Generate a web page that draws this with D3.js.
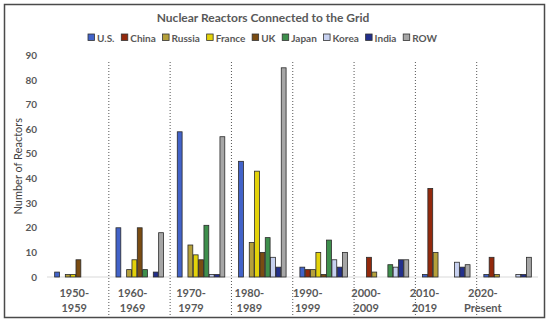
<!DOCTYPE html>
<html>
<head>
<meta charset="utf-8">
<script src="https://cdn.jsdelivr.net/npm/d3@7"></script>
<style>
  body { margin: 0; background: #fff; }
  svg text { font-family: Lato, "Liberation Sans", sans-serif; }
</style>
</head>
<body>
<div id="chart"></div>
<script>
const decades = ["1950-1959", "1960-1969", "1970-1979", "1980-1989", "1990-1999", "2000-2009", "2010-2019", "2020-Present"];
const countries = ["U.S.", "China", "Russia", "France", "UK", "Japan", "Korea", "India", "ROW"];
// reactors connected per decade, one array per country
const us     = [2, 20, 59, 47, 4, 0, 1, 1];
const china  = [0, 0, 0, 0, 3, 8, 36, 8];
const russia = [1, 3, 13, 14, 3, 2, 10, 1];
const france = [1, 7, 9, 43, 10, 0, 0, 0];
const uk     = [7, 20, 7, 10, 1, 0, 0, 0];
const japan  = [0, 3, 21, 16, 15, 5, 0, 0];
const korea  = [0, 0, 1, 8, 7, 4, 6, 1];
const india  = [0, 2, 1, 4, 4, 7, 4, 1];
const row    = [0, 18, 57, 85, 10, 7, 5, 8];
const yTicks = [0, 10, 20, 30, 40, 50, 60, 70, 80, 90];
const colors = ["#4263c9", "#93290c", "#b5a03a", "#e3d20a", "#7a4c12", "#3e8f4c", "#c7d1f0", "#23308c", "#a6a6a6"];

const series = [us, china, russia, france, uk, japan, korea, india, row];

const width = 550, height = 324;
const svg = d3.select("#chart").append("svg")
  .attr("width", width)
  .attr("height", height);

svg.append("rect").attr("width", width).attr("height", height).attr("fill", "#fff");
// outer frame
svg.append("rect")
  .attr("x", 4.5).attr("y", 4.5)
  .attr("width", 540).attr("height", 313)
  .attr("fill", "none").attr("stroke", "#4a4a4a").attr("stroke-width", 1.5);

const x = d3.scaleBand().domain(decades).range([47.5, 538]).padding(0);
const xLabel = d3.scaleBand().domain(decades).range([45, 512]);   // labels sit a little left of the groups
const x1 = d3.scaleBand().domain(countries)
  .range([x.bandwidth() / 2 - 24, x.bandwidth() / 2 + 24]);
const y = d3.scaleLinear().domain([0, 90]).range([277, 55.5]);
const color = d3.scaleOrdinal().domain(countries).range(colors);

// title
svg.append("text")
  .attr("x", 263).attr("y", 22)
  .attr("text-anchor", "middle")
  .style("font-size", "12px").style("font-weight", "bold")
  .attr("fill", "#595959")
  .text("Nuclear Reactors Connected to the Grid");

// legend, spread across 88..437 like the original
const legend = svg.append("g").attr("transform", "translate(88,38)");
const items = countries.map(c => {
  const g = legend.append("g");
  g.append("rect").attr("x", 0).attr("y", -4).attr("width", 6.5).attr("height", 6.5)
    .attr("fill", color(c)).attr("stroke", "#333").attr("stroke-width", 0.8);
  const t = g.append("text").attr("x", 9).attr("y", 3.5)
    .style("font-size", "10px").style("font-weight", "bold")
    .attr("fill", "#595959").text(c);
  return { g, w: 9 + t.node().getComputedTextLength() };
});
const gap = (349 - d3.sum(items, d => d.w)) / (items.length - 1);
let lx = 0;
items.forEach(it => { it.g.attr("transform", `translate(${lx},0)`); lx += it.w + gap; });

// y axis labels
svg.append("g").selectAll("text").data(yTicks).join("text")
  .attr("x", 37).attr("y", d => y(d) + 3.5)
  .attr("text-anchor", "end")
  .style("font-size", "10px").style("font-weight", "bold")
  .attr("fill", "#595959")
  .text(d => d);

svg.append("text")
  .attr("transform", `translate(22,${(y(0) + y(90)) / 2}) rotate(-90)`)
  .attr("text-anchor", "middle")
  .style("font-size", "11px")
  .attr("fill", "#404040")
  .text("Number of Reactors");

// baseline
svg.append("line")
  .attr("x1", 47).attr("x2", 538)
  .attr("y1", y(0)).attr("y2", y(0))
  .attr("stroke", "#d9d9d9");

// dotted separators between decades
svg.append("g").selectAll("line").data(decades.slice(1)).join("line")
  .attr("x1", d => x(d)).attr("x2", d => x(d))
  .attr("y1", 62).attr("y2", 316)
  .attr("stroke", "#555").attr("stroke-width", 1)
  .attr("stroke-dasharray", "1,2");

// bars
const groups = svg.append("g").selectAll("g").data(decades).join("g")
  .attr("transform", d => `translate(${x(d)},0)`);

groups.selectAll("rect")
  .data((d, di) => countries.map((c, ci) => ({ c, v: series[ci][di] })).filter(e => e.v > 0))
  .join("rect")
  .attr("x", e => x1(e.c) + 0.5)
  .attr("y", e => y(e.v))
  .attr("width", x1.bandwidth() - 0.5)
  .attr("height", e => y(0) - y(e.v))
  .attr("fill", e => color(e.c))
  .attr("stroke", "#2a2a2a").attr("stroke-width", 0.8);

// x labels, two lines
const xl = svg.append("g").selectAll("text").data(decades).join("text")
  .attr("text-anchor", "middle")
  .style("font-size", "11px").style("font-weight", "bold")
  .attr("fill", "#595959");
xl.append("tspan")
  .attr("x", d => xLabel(d) + xLabel.bandwidth() / 2).attr("y", 297)
  .text(d => d.split("-")[0] + "-");
xl.append("tspan")
  .attr("x", d => xLabel(d) + xLabel.bandwidth() / 2).attr("y", 312)
  .text(d => d.split("-")[1]);
</script>
</body>
</html>
